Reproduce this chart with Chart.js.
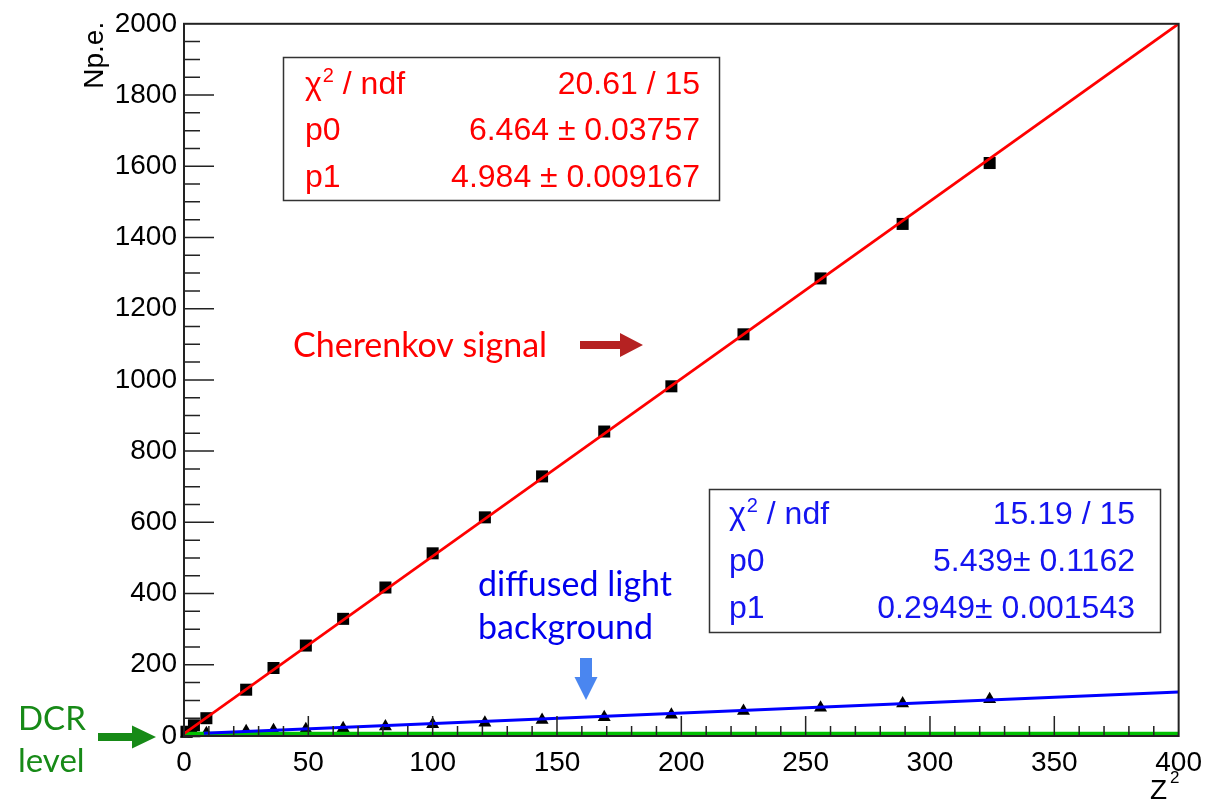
<!DOCTYPE html>
<html>
<head>
<meta charset="utf-8">
<script src="https://cdn.jsdelivr.net/npm/chart.js@4.4.1/dist/chart.umd.min.js"></script>
<style>
  html, body { margin: 0; padding: 0; background: #fff; }
  #wrap { width: 1212px; height: 801px; }
</style>
</head>
<body>
<div id="wrap"><canvas id="npeChart" width="1212" height="801"></canvas></div>
<script>
// Z^2 of the ions
const zSquared = [1, 4, 9, 25, 36, 49, 64, 81, 100, 121, 144, 169, 196, 225, 256, 289, 324];
// Np.e. of the Cherenkov signal
const cherenkovNpe = [12, 30, 50, 130, 191, 254, 329, 417, 513, 614, 729, 855, 982, 1128, 1285, 1438, 1609];
// Np.e. of the diffused light background
const diffusedNpe = [6, 7, 8, 13, 16, 19, 22, 27, 33, 37, 45, 53, 60, 70, 79, 91, 103];
// linear fits p0 + p1 * Z^2
const cherenkovFit = { chi2: '20.61 / 15', p0: 6.464, p0err: '0.03757', p1: 4.984, p1err: '0.009167' };
const diffusedFit = { chi2: '15.19 / 15', p0: 5.439, p0err: '0.1162', p1: 0.2949, p1err: '0.001543' };
const diffusedFitStart = 8;
const dcrLevel = 5;
// axis ranges and ticks
const xRange = [0, 400];
const yRange = [0, 2000];
const xMajorStep = 50, xMinorStep = 10;
const yMajorStep = 200, yMinorStep = 50;

const RED = '#ff0000';
const BLUE = '#1414f0';
const GREEN = '#178a17';
const AXIS_FONT = '"Liberation Sans", Arial, sans-serif';
const NOTE_FONT = 'Lato, "Open Sans", sans-serif';
const STAT_SIZE = 32;

function fitLine(fit, x0, x1) {
    return [{ x: x0, y: fit.p0 + fit.p1 * x0 }, { x: x1, y: fit.p0 + fit.p1 * x1 }];
}

function blockArrow(ctx, dir, tipX, tipY, len, shaft, headW, headL, color) {
    ctx.save();
    ctx.translate(tipX, tipY);
    if (dir === 'down') ctx.rotate(Math.PI / 2);
    ctx.fillStyle = color;
    ctx.beginPath();
    ctx.moveTo(0, 0);
    ctx.lineTo(-headL, -headW / 2);
    ctx.lineTo(-headL, -shaft / 2);
    ctx.lineTo(-len, -shaft / 2);
    ctx.lineTo(-len, shaft / 2);
    ctx.lineTo(-headL, shaft / 2);
    ctx.lineTo(-headL, headW / 2);
    ctx.closePath();
    ctx.fill();
    ctx.restore();
}

// chi2 label with superscript
function chiLabel(ctx, x, y, color) {
    ctx.fillStyle = color;
    ctx.textAlign = 'left';
    ctx.font = STAT_SIZE + 'px ' + AXIS_FONT;
    ctx.fillText('\u03c7', x, y);
    let w = ctx.measureText('\u03c7').width;
    ctx.font = '20px ' + AXIS_FONT;
    ctx.fillText('2', x + w + 1, y - 12);
    w += ctx.measureText('2').width + 1;
    ctx.font = STAT_SIZE + 'px ' + AXIS_FONT;
    ctx.fillText(' / ndf', x + w, y);
}

function statBox(ctx, box, fit, color) {
    ctx.save();
    ctx.fillStyle = '#fff';
    ctx.fillRect(box.x, box.y, box.w, box.h);
    ctx.strokeStyle = '#333';
    ctx.lineWidth = 1.5;
    ctx.strokeRect(box.x + 0.5, box.y + 0.5, box.w, box.h);
    const rows = box.rows;
    const lx = box.x + box.labelPad;
    const rx = box.x + box.w - box.valuePad;
    chiLabel(ctx, lx, rows[0], color);
    ctx.font = STAT_SIZE + 'px ' + AXIS_FONT;
    ctx.fillStyle = color;
    ctx.fillText('p0', lx, rows[1]);
    ctx.fillText('p1', lx, rows[2]);
    ctx.textAlign = 'right';
    ctx.fillText(fit.chi2, rx, rows[0]);
    ctx.fillText(fit.p0.toFixed(3) + box.pm + fit.p0err, rx, rows[1]);
    ctx.fillText(String(fit.p1) + box.pm + fit.p1err, rx, rows[2]);
    ctx.restore();
}

// inward ticks and frame, ROOT style
const rootFrame = {
    id: 'rootFrame',
    afterDatasetsDraw(chart) {
        const { ctx, chartArea: a, scales: { x, y } } = chart;
        ctx.save();
        ctx.strokeStyle = '#222';
        ctx.lineWidth = 1.5;
        ctx.beginPath();
        for (let v = yRange[0] + yMinorStep; v < yRange[1]; v += yMinorStep) {
            const py = y.getPixelForValue(v);
            const len = v % yMajorStep === 0 ? 30 : 16;
            ctx.moveTo(a.left, py);
            ctx.lineTo(a.left + len, py);
        }
        for (let v = xRange[0] + xMinorStep; v < xRange[1]; v += xMinorStep) {
            const px = x.getPixelForValue(v);
            const len = v % xMajorStep === 0 ? 20 : 10;
            ctx.moveTo(px, a.bottom);
            ctx.lineTo(px, a.bottom - len);
        }
        ctx.stroke();
        ctx.lineWidth = 2;
        ctx.strokeRect(a.left, a.top, a.right - a.left, a.bottom - a.top);
        ctx.restore();
    },
    afterDraw(chart) {
        const { ctx, chartArea: a } = chart;
        ctx.save();
        // axis titles
        ctx.fillStyle = '#000';
        ctx.font = '28px ' + AXIS_FONT;
        ctx.textAlign = 'left';
        ctx.fillText('Z', 1150, 799);
        ctx.font = '17px ' + AXIS_FONT;
        ctx.fillText('2', 1170, 783);
        ctx.save();
        ctx.translate(103, a.top - 2);
        ctx.rotate(-Math.PI / 2);
        ctx.font = '28px ' + AXIS_FONT;
        ctx.textAlign = 'right';
        ctx.fillText('Np.e.', 0, 0);
        ctx.restore();

        // fit boxes
        statBox(ctx, { x: 283, y: 57, w: 436, h: 143, rows: [94, 140, 187], labelPad: 22, valuePad: 19, pm: ' \u00b1 ' },
            cherenkovFit, RED);
        statBox(ctx, { x: 709, y: 489, w: 451, h: 143, rows: [524, 571, 618], labelPad: 20, valuePad: 25, pm: '\u00b1 ' },
            diffusedFit, BLUE);

        // notes and arrows
        ctx.textAlign = 'left';
        ctx.font = '34px ' + NOTE_FONT;
        ctx.fillStyle = RED;
        ctx.fillText('Cherenkov signal', 293, 357);
        blockArrow(ctx, 'right', 643, 345, 63, 8, 24, 23, '#b52222');

        ctx.fillStyle = '#0000ee';
        ctx.fillText('diffused light', 478, 596);
        ctx.fillText('background', 478, 639);
        blockArrow(ctx, 'down', 586, 700, 42, 12, 23, 23, '#4a86f0');

        ctx.fillStyle = GREEN;
        ctx.font = '33px ' + NOTE_FONT;
        ctx.fillText('DCR', 18, 730);
        ctx.fillText('level', 18, 772);
        blockArrow(ctx, 'right', 156, 737, 58, 8, 23, 24, GREEN);
        ctx.restore();
    }
};

Chart.defaults.font.family = AXIS_FONT;
Chart.defaults.color = '#000';

new Chart(document.getElementById('npeChart'), {
    type: 'scatter',
    data: {
        datasets: [
            {
                data: fitLine(cherenkovFit, xRange[0], xRange[1]),
                showLine: true, borderColor: RED, borderWidth: 2.8, pointRadius: 0
            },
            {
                data: fitLine(diffusedFit, diffusedFitStart, xRange[1]),
                showLine: true, borderColor: '#0000ff', borderWidth: 3, pointRadius: 0
            },
            {
                data: [{ x: xRange[0], y: dcrLevel }, { x: xRange[1], y: dcrLevel }],
                showLine: true, borderColor: '#00c000', borderWidth: 5, pointRadius: 0
            },
            {
                data: zSquared.map((z, i) => ({ x: z, y: cherenkovNpe[i] })),
                pointStyle: 'rect', pointRadius: 8.5, backgroundColor: '#000', borderWidth: 0, clip: false
            },
            {
                data: zSquared.map((z, i) => ({ x: z, y: diffusedNpe[i] })),
                pointStyle: 'triangle', pointRadius: 7.5, backgroundColor: '#000', borderWidth: 0, clip: false
            }
        ]
    },
    options: {
        responsive: false,
        animation: false,
        devicePixelRatio: 1,
        layout: { padding: { left: 0, right: 30, top: 20, bottom: 0 } },
        plugins: { legend: { display: false }, tooltip: { enabled: false } },
        scales: {
            x: {
                type: 'linear', min: xRange[0], max: xRange[1],
                grid: { display: false, drawTicks: false },
                border: { display: false },
                ticks: { stepSize: xMajorStep, padding: 10, font: { size: 28 }, color: '#000', maxRotation: 0,
                    callback: v => String(v) },
                afterFit: s => { s.height = 65; }
            },
            y: {
                type: 'linear', min: yRange[0], max: yRange[1],
                grid: { display: false, drawTicks: false },
                border: { display: false },
                ticks: { stepSize: yMajorStep, padding: 7, font: { size: 28 }, color: '#000',
                    callback: v => String(v) },
                afterFit: s => { s.width = 184; }
            }
        }
    },
    plugins: [rootFrame]
});
</script>
</body>
</html>
